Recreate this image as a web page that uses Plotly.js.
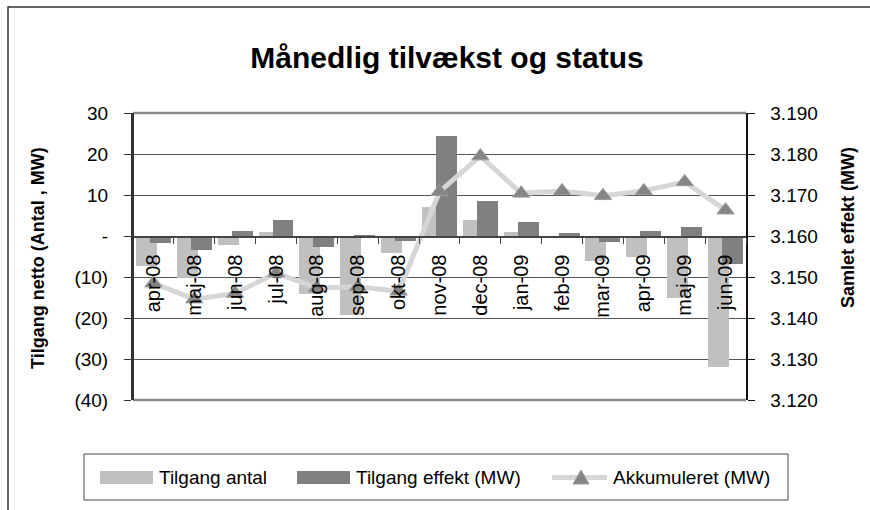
<!DOCTYPE html>
<html>
<head>
<meta charset="utf-8">
<script src="https://cdn.plot.ly/plotly-3.0.1.min.js"></script>
<style>html,body{margin:0;padding:0;background:#fff;}#chart{width:870px;height:510px;}</style>
</head>
<body>
<div id="chart"></div>
<script>
// ---- data ----
const categories = ['apr-08','maj-08','jun-08','jul-08','aug-08','sep-08','okt-08','nov-08','dec-08','jan-09','feb-09','mar-09','apr-09','maj-09','jun-09'];
const tilgangAntal = [-7.2,-10.3,-2.2,1.0,-14.1,-19.3,-4.1,7.1,3.9,1.0,0,-6.1,-5.0,-15.0,-32.0];
const tilgangEffekt = [-1.6,-3.4,1.2,3.9,-2.6,0.2,-1.1,24.5,8.6,3.4,0.7,-1.4,1.2,2.3,-6.9];
const akkumuleret = [3.1485,3.1446,3.146,3.151,3.1473,3.1476,3.1465,3.1708,3.1795,3.1704,3.171,3.1698,3.171,3.1732,3.1663];
const seriesNames = ['Tilgang antal','Tilgang effekt (MW)','Akkumuleret (MW)'];
const leftTickVals = [30,20,10,0,-10,-20,-30,-40];
const leftTickText = ['30','20','10','-','(10)','(20)','(30)','(40)'];
const rightTickVals = [3.19,3.18,3.17,3.16,3.15,3.14,3.13,3.12];
const titleText = 'Månedlig tilvækst og status';
const leftTitle = 'Tilgang netto (Antal , MW)';
const rightTitle = 'Samlet effekt (MW)';

// ---- geometry helpers (pixel -> paper) ----
const L = 133, R = 746, T = 113, B = 400, W = 870, H = 510;
const px = v => (v - L) / (R - L);
const py = v => (B - v) / (B - T);
const FONT = 'Arial, "Liberation Sans", sans-serif';

const traces = [
  {type:'bar', name:seriesNames[0], x:categories, y:tilgangAntal, width:0.513, offset:-0.428,
   marker:{color:'#c0c0c0', line:{width:0}}, showlegend:false, hoverinfo:'x+y'},
  {type:'bar', name:seriesNames[1], x:categories, y:tilgangEffekt, width:0.513, offset:-0.086,
   marker:{color:'#808080', line:{width:0}}, showlegend:false, hoverinfo:'x+y'},
  {type:'scatter', mode:'lines+markers', name:seriesNames[2], x:categories, y:akkumuleret, yaxis:'y2',
   line:{color:'#d6d6d6', width:5}, marker:{symbol:'triangle-up', size:15, color:'#858585', line:{color:'#9a9a9a', width:1}},
   showlegend:false, cliponaxis:false}
];

const shapes = [
  {type:'rect', xref:'paper', yref:'paper', x0:px(8), x1:px(900), y0:py(540), y1:py(7), line:{color:'#333', width:1.5}, fillcolor:'rgba(0,0,0,0)', layer:'below'},
  {type:'line', xref:'paper', yref:'paper', x0:0, x1:1, y0:1, y1:1, line:{color:'#8a8a8a', width:2.5}},
  {type:'line', xref:'paper', yref:'paper', x0:0, x1:1, y0:0, y1:0, line:{color:'#8a8a8a', width:2.5}},
  {type:'line', xref:'paper', yref:'paper', x0:0, x1:0, y0:0, y1:1, line:{color:'#333', width:2}},
  {type:'rect', xref:'paper', yref:'paper', x0:px(84), x1:px(788), y0:py(500), y1:py(454), line:{color:'#444', width:1}, fillcolor:'#fff'},
  {type:'rect', xref:'paper', yref:'paper', x0:px(100), x1:px(153), y0:py(484), y1:py(471), line:{width:0}, fillcolor:'#c0c0c0'},
  {type:'rect', xref:'paper', yref:'paper', x0:px(297), x1:px(350), y0:py(484), y1:py(471), line:{width:0}, fillcolor:'#808080'},
  {type:'line', xref:'paper', yref:'paper', x0:px(552), x1:px(607), y0:py(477.5), y1:py(477.5), line:{color:'#d6d6d6', width:5}},
  {type:'path', xref:'paper', yref:'paper',
   path:'M '+px(573)+' '+py(484)+' L '+px(589)+' '+py(484)+' L '+px(581)+' '+py(470)+' Z',
   fillcolor:'#858585', line:{color:'#9a9a9a', width:1}}
];

const annotations = [
  {xref:'paper', yref:'paper', x:px(38), y:py(258), text:leftTitle, textangle:-90, showarrow:false,
   font:{family:FONT, size:18, color:'#000', weight:'bold'}, xanchor:'center', yanchor:'middle'},
  {xref:'paper', yref:'paper', x:px(848), y:py(228), text:rightTitle, textangle:-90, showarrow:false,
   font:{family:FONT, size:18, color:'#000', weight:'bold'}, xanchor:'center', yanchor:'middle'},
  {xref:'paper', yref:'paper', x:px(157), y:py(477.5), text:seriesNames[0], showarrow:false, xanchor:'left', yanchor:'middle',
   font:{family:FONT, size:19, color:'#000'}},
  {xref:'paper', yref:'paper', x:px(354), y:py(477.5), text:seriesNames[1], showarrow:false, xanchor:'left', yanchor:'middle',
   font:{family:FONT, size:19, color:'#000'}},
  {xref:'paper', yref:'paper', x:px(611), y:py(477.5), text:seriesNames[2], showarrow:false, xanchor:'left', yanchor:'middle',
   font:{family:FONT, size:19, color:'#000'}}
];

const layout = {
  width:W, height:H,
  margin:{l:L, r:W-R, t:T, b:H-B, pad:0},
  paper_bgcolor:'#fff', plot_bgcolor:'#fff',
  barmode:'overlay', bargap:0,
  showlegend:false,
  title:{text:titleText, font:{family:FONT, size:30, color:'#000', weight:'bold'},
         xref:'container', yref:'container', x:447/W, y:1-57/H, xanchor:'center', yanchor:'middle'},
  font:{family:FONT, color:'#000'},
  xaxis:{type:'category', anchor:'free', position:py(236), showgrid:false, zeroline:false,
         showline:true, linecolor:'#444', linewidth:1.5,
         ticks:'outside', ticklen:6, tickcolor:'#444', tickwidth:1, tickson:'boundaries',
         tickangle:-90, tickfont:{family:FONT, size:20, color:'#000'}, ticklabelstandoff:9,
         range:[-0.5, categories.length-0.5]},
  yaxis:{range:[-40,30], tickvals:leftTickVals, ticktext:leftTickText,
         showgrid:true, gridcolor:'#555', gridwidth:1, zeroline:false,
         showline:true, linecolor:'#333', linewidth:2,
         ticks:'outside', ticklen:7, tickcolor:'#333', tickwidth:1,
         tickfont:{family:FONT, size:19, color:'#000'}, ticklabelstandoff:12},
  yaxis2:{overlaying:'y', side:'right', range:[3.12,3.19], tickvals:rightTickVals, tickformat:'.3f',
          showgrid:false, zeroline:false, showline:true, linecolor:'#111', linewidth:1.5,
          ticks:'outside', ticklen:7, tickcolor:'#111', tickwidth:1,
          tickfont:{family:FONT, size:19, color:'#000'}, ticklabelstandoff:12},
  shapes:shapes,
  annotations:annotations
};

Plotly.newPlot('chart', traces, layout, {displayModeBar:false, staticPlot:true});
</script>
</body>
</html>
